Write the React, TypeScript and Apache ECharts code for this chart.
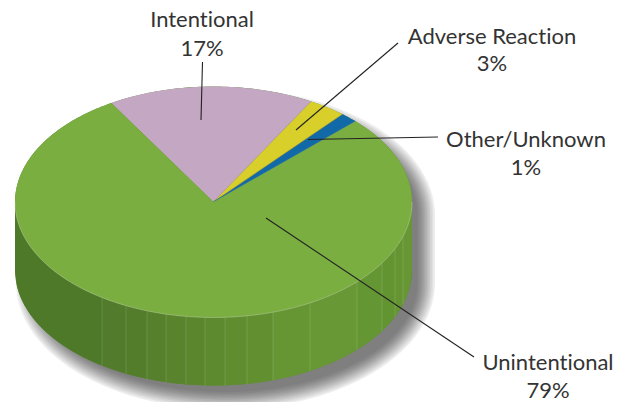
import React, { useEffect, useRef } from "react";
import * as echarts from "echarts";

const categories = ["Intentional", "Adverse Reaction", "Other/Unknown", "Unintentional"];
const shares = [16.8, 3.1, 1.4, 78.7];
const sliceColors = ["#c3a7c3", "#d8cf2a", "#1269a8", "#7aae41"];
const edgeColors = ["#a58da8", "#b3a62e", "#2c74a6", "#7aae41"];

const CX = 213.5, CY = 202, RX = 198.5, RY = 115.5, DEPTH = 68, START = 121;
const wallEdges = [15, 102, 126, 147, 166, 186, 205, 225, 247, 273, 310, 357, 382, 395, 403, 412];
const wallColors = ["#4e7929", "#527c2b", "#537d2b", "#56802c", "#59842d", "#5b862e", "#5e8a2f", "#608d30", "#629031", "#669634", "#689835", "#649633", "#639432", "#649532", "#669734"];
const shadowRamp = ["#eeeeee", "#e2e1e2", "#d6d5d6", "#cac9ca", "#bebdbe", "#b3b2b3", "#a8a7a8", "#9e9d9e", "#959495", "#8d8c8d", "#868586", "#807f80"];

const rad = (d: number) => (d * Math.PI) / 180;
const pt = (t: number, dy = 0): number[] => [CX + RX * Math.cos(rad(t)), CY - RY * Math.sin(rad(t)) + dy];

function arc(from: number, to: number, dy = 0) {
  const n = Math.max(2, Math.ceil(Math.abs(to - from)));
  const out: number[][] = [];
  for (let i = 0; i <= n; i++) out.push(pt(from + ((to - from) * i) / n, dy));
  return out;
}
const lowerY = (x: number) => {
  const u = Math.min(1, Math.abs(x - CX) / RX);
  return CY + RY * Math.sqrt(1 - u * u);
};

function sliceAngles() {
  const total = shares.reduce((a, b) => a + b, 0);
  let a = START;
  return shares.map((v) => {
    const from = a;
    a -= (v / total) * 360;
    return [from, a];
  });
}

function shadowLayer(grow: number, fill: string) {
  const ox = CX + 12, oy = CY + 13, rx = RX + grow, ry = RY + grow;
  const points: number[][] = [];
  for (let t = 0; t <= 180; t += 3) points.push([ox + rx * Math.cos(rad(t)), oy - ry * Math.sin(rad(t))]);
  for (let t = 180; t <= 360; t += 3) points.push([ox + rx * Math.cos(rad(t)), oy - ry * Math.sin(rad(t)) + DEPTH]);
  return { type: "polygon", shape: { points }, style: { fill } };
}

function renderWall(params: any) {
  const children: any[] = [];
  if (params.dataIndex === 0) {
    shadowRamp.forEach((fill, k) => children.push(shadowLayer(11 - k * 1.6, fill)));
    const silhouette = [...arc(0, 180, 0), ...arc(180, 360, DEPTH)];
    children.push({ type: "polygon", shape: { points: silhouette }, style: { fill: "#5e8a2f" } });
    for (let i = 0; i < wallColors.length; i++) {
      const x0 = wallEdges[i], x1 = wallEdges[i + 1];
      const top: number[][] = [], bottom: number[][] = [];
      const n = Math.max(2, Math.ceil((x1 - x0) / 2));
      for (let k = 0; k <= n; k++) {
        const x = x0 + ((x1 - x0) * k) / n;
        top.push([x, lowerY(x)]);
        bottom.unshift([x, lowerY(x) + DEPTH]);
      }
      children.push({ type: "polygon", shape: { points: [...top, ...bottom] }, style: { fill: wallColors[i] } });
      if (i > 0) {
        children.push({
          type: "line",
          shape: { x1: x0, y1: lowerY(x0), x2: x0, y2: lowerY(x0) + DEPTH },
          style: { stroke: "#ffffff", opacity: 0.13, lineWidth: 1 },
        });
      }
    }
  }
  return { type: "group", children };
}

function renderSlice(params: any) {
  const i = params.dataIndex;
  const [from, to] = sliceAngles()[i];
  const rim = arc(from, to);
  const children: any[] = [
    { type: "polygon", shape: { points: [[CX, CY], ...rim] }, style: { fill: sliceColors[i] } },
  ];
  if (i < 3) {
    const tip = pt(to);
    children.push({
      type: "line",
      shape: { x1: CX, y1: CY, x2: tip[0], y2: tip[1] },
      style: { stroke: edgeColors[i], lineWidth: i === 0 ? 0.8 : 1.4 },
    });
  } else {
    children.push({
      type: "polyline",
      shape: { points: arc(360, 180) },
      style: { stroke: "#cdd7be", opacity: 0.5, lineWidth: 0.8, fill: "none" },
    });
  }
  return { type: "group", children };
}

const labelStyle = { fontFamily: "Lato", fontSize: 22, fill: "#333333", align: "center", verticalAlign: "middle" };
const labelPos = [[202, 18, 47], [492, 35, 62], [526, 138, 166], [548, 361, 389]];
const leaders = [
  [202.5, 62, 201, 120],
  [398, 43, 296, 130],
  [438, 137, 308, 139.5],
  [474, 357, 266, 218],
];

export default function App() {
  const ref = useRef<HTMLDivElement>(null);
  useEffect(() => {
    const chart = echarts.init(ref.current!, null, { renderer: "svg" });
    const graphic: any[] = [];
    categories.forEach((name, i) => {
      const [x, y1, y2] = labelPos[i];
      const [a, b, c, d] = leaders[i];
      graphic.push({ type: "line", z: 10, shape: { x1: a, y1: b, x2: c, y2: d }, style: { stroke: "#222", lineWidth: 1.1 } });
      graphic.push({ type: "text", z: 10, x, y: y1, style: { ...labelStyle, text: name } });
      graphic.push({ type: "text", z: 10, x, y: y2, style: { ...labelStyle, text: `${Math.round(shares[i])}%` } });
    });
    chart.setOption({
      animation: false,
      backgroundColor: "#ffffff",
      series: [
        { type: "custom", coordinateSystem: "none", silent: true, data: [shares[3]], renderItem: renderWall, z: 1 },
        { type: "custom", coordinateSystem: "none", silent: true, data: shares, renderItem: renderSlice, z: 2 },
      ],
      graphic,
    });
    return () => chart.dispose();
  }, []);
  return <div ref={ref} style={{ position: "fixed", left: 0, top: 0, width: 629, height: 402, fontVariantLigatures: "none" }} />;
}
